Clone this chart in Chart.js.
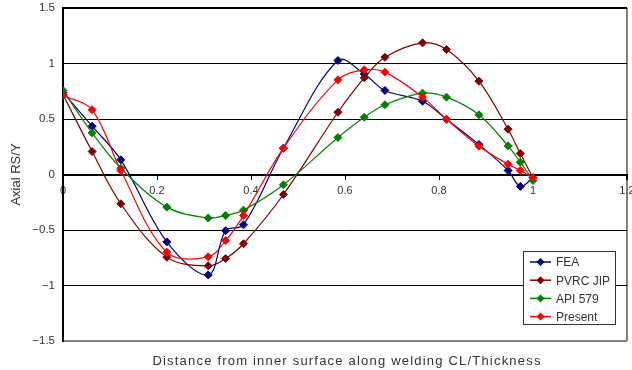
<!DOCTYPE html>
<html>
<head>
<meta charset="utf-8">
<script src="https://cdn.jsdelivr.net/npm/chart.js@4.4.0/dist/chart.umd.min.js"></script>
<style>
  html, body { margin: 0; padding: 0; background: #fff; }
</style>
</head>
<body>
<canvas id="chart" width="632" height="370"></canvas>
<script>
// normalised distance (x) shared by all four series
const xPositions = [0, 0.062, 0.123, 0.221, 0.309, 0.346, 0.384, 0.469, 0.585, 0.641, 0.685, 0.765, 0.816, 0.885, 0.947, 0.973, 1.0];

const feaValues     = [0.74, 0.435, 0.132, -0.607, -0.905, -0.506, -0.453, 0.237, 1.027, 0.905, 0.757, 0.66, 0.498, 0.27, 0.036, -0.107, -0.03];
const pvrcValues    = [0.72, 0.207, -0.264, -0.745, -0.823, -0.757, -0.624, -0.18, 0.561, 0.871, 1.056, 1.186, 1.126, 0.841, 0.408, 0.189, -0.03];
const api579Values  = [0.757, 0.375, 0.057, -0.294, -0.392, -0.369, -0.321, -0.093, 0.333, 0.516, 0.628, 0.733, 0.697, 0.538, 0.258, 0.111, -0.054];
const presentValues = [0.712, 0.583, 0.036, -0.70, -0.742, -0.595, -0.37, 0.237, 0.853, 0.943, 0.922, 0.697, 0.498, 0.255, 0.092, 0.036, -0.03];

const seriesNames = ['FEA', 'PVRC JIP', 'API 579', 'Present'];
const seriesColors = ['#000080', '#800000', '#008000', '#ff0000'];

const xTicks = [0, 0.2, 0.4, 0.6, 0.8, 1, 1.2];
const yTicks = [-1.5, -1, -0.5, 0, 0.5, 1, 1.5];

const xTitle = 'Distance from inner surface along welding CL/Thickness';
const yTitle = 'Axial RS/Y';

const fmt = v => String(+v.toFixed(1)).replace('-', '\u2212');

const toPoints = vals => vals.map((y, i) => ({ x: xPositions[i], y }));

const makeDataset = (vals, i) => ({
  label: seriesNames[i],
  data: toPoints(vals),
  showLine: true,
  borderColor: seriesColors[i],
  backgroundColor: seriesColors[i],
  borderWidth: 1.2,
  tension: 0.35,
  pointStyle: 'rectRot',
  pointRadius: 4,
  pointBorderWidth: 1,
  order: 3 - i
});

// legend box in the lower right + x axis title
const extras = {
  id: 'extras',
  afterDraw(chart) {
    const ctx = chart.ctx;
    ctx.save();

    // legend
    ctx.fillStyle = '#fff';
    ctx.fillRect(523, 251, 92, 73);
    ctx.strokeStyle = '#333';
    ctx.lineWidth = 1;
    ctx.strokeRect(523.5, 251.5, 92, 73);
    ctx.font = '12px "Liberation Sans", Arial, sans-serif';
    ctx.textBaseline = 'middle';
    seriesNames.forEach((name, i) => {
      const y = 262 + i * 18.2;
      ctx.strokeStyle = seriesColors[i];
      ctx.lineWidth = 1.5;
      ctx.beginPath();
      ctx.moveTo(530, y);
      ctx.lineTo(551, y);
      ctx.stroke();
      ctx.fillStyle = seriesColors[i];
      ctx.beginPath();
      ctx.moveTo(540.5, y - 4);
      ctx.lineTo(544.5, y);
      ctx.lineTo(540.5, y + 4);
      ctx.lineTo(536.5, y);
      ctx.closePath();
      ctx.fill();
      ctx.fillStyle = '#333';
      ctx.fillText(name, 556, y + 1);
    });

    // x title
    ctx.font = '13px "Liberation Sans", Arial, sans-serif';
    ctx.letterSpacing = '1.2px';
    ctx.textAlign = 'center';
    ctx.textBaseline = 'alphabetic';
    ctx.fillStyle = '#333';
    ctx.fillText(xTitle, 347, 365);
    ctx.restore();
  }
};

new Chart(document.getElementById('chart'), {
  type: 'scatter',
  data: {
    datasets: [feaValues, pvrcValues, api579Values, presentValues].map(makeDataset)
  },
  options: {
    responsive: false,
    animation: false,
    layout: { padding: { left: 0, top: 8, right: 1, bottom: 29 } },
    plugins: {
      legend: { display: false },
      tooltip: { enabled: false }
    },
    scales: {
      x: {
        type: 'linear',
        position: { y: 0 },
        min: 0,
        max: 1.2,
        afterBuildTicks: s => { s.ticks = xTicks.map(v => ({ value: v })); },
        afterFit: s => { s.paddingLeft = 0; s.paddingRight = 0; s.paddingTop = 0; s.paddingBottom = 0; },
        ticks: {
          callback: fmt,
          padding: 6,
          maxRotation: 0,
          autoSkip: false,
          color: '#333',
          font: { family: '"Liberation Sans", Arial, sans-serif', size: 11 }
        },
        grid: {
          drawOnChartArea: true,
          color: c => (c.tick && c.tick.value === 1.2) ? '#808080' : 'rgba(0,0,0,0)',
          lineWidth: c => (c.tick && c.tick.value === 1.2) ? 2 : 1,
          tickColor: '#000',
          tickLength: 4
        },
        border: { display: true, color: '#000', width: 2 }
      },
      y: {
        min: -1.5,
        max: 1.5,
        afterBuildTicks: s => { s.ticks = yTicks.map(v => ({ value: v })); },
        afterFit: s => { s.width = 63; s.paddingTop = 0; s.paddingBottom = 0; },
        ticks: {
          callback: fmt,
          padding: 8,
          color: '#333',
          font: { family: '"Liberation Sans", Arial, sans-serif', size: 11.5 }
        },
        grid: {
          drawTicks: false,
          color: c => (c.tick && c.tick.value === -1.5) ? '#808080' : '#000',
          lineWidth: c => (c.tick && Math.abs(c.tick.value) === 1.5) ? 2 : 1
        },
        border: { display: true, color: '#000', width: 2 },
        title: {
          display: true,
          text: yTitle,
          color: '#333',
          padding: { top: 9, bottom: 0 },
          font: { family: '"Liberation Sans", Arial, sans-serif', size: 13 }
        }
      }
    }
  },
  plugins: [extras]
});
</script>
</body>
</html>
